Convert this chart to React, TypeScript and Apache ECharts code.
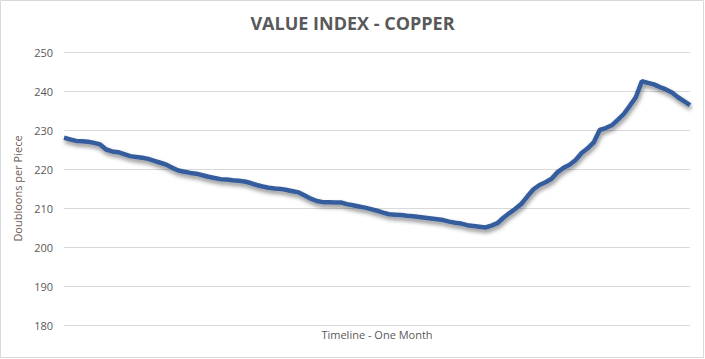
import React, { useEffect, useRef } from "react";
import * as echarts from "echarts";

const titleText = "VALUE INDEX - COPPER";
const yAxisName = "Doubloons per Piece";
const xAxisName = "Timeline - One Month";
const yTicks = { min: 180, max: 250, interval: 10 };

const values: number[] = [
  228.0, 227.6, 227.2, 227.1, 227.0, 226.7, 226.3, 225.0, 224.5, 224.3,
  223.8, 223.3, 223.1, 222.9, 222.6, 222.1, 221.6, 221.1, 220.3, 219.6,
  219.3, 219.0, 218.8, 218.4, 218.0, 217.7, 217.4, 217.3, 217.1, 217.0,
  216.8, 216.4, 215.9, 215.5, 215.2, 215.0, 214.9, 214.6, 214.3, 214.0,
  213.2, 212.4, 211.8, 211.5, 211.5, 211.4, 211.4, 211.0, 210.7, 210.4,
  210.1, 209.7, 209.3, 208.8, 208.4, 208.3, 208.2, 208.0, 207.9, 207.7,
  207.5, 207.3, 207.1, 206.9, 206.5, 206.2, 206.0, 205.6, 205.4, 205.2,
  205.0, 205.5, 206.1, 207.5, 208.7, 209.8, 211.1, 213.0, 214.8, 215.9,
  216.6, 217.5, 219.2, 220.3, 221.1, 222.3, 224.1, 225.3, 226.8, 230.0,
  230.5, 231.2, 232.6, 234.1, 236.2, 238.4, 242.5, 242.1, 241.7, 241.0,
  240.4, 239.6, 238.4, 237.4, 236.4,
];
const categories: string[] = values.map((_, i) => String(i + 1));

export default function App() {
  const ref = useRef<HTMLDivElement>(null);
  useEffect(() => {
    if (!ref.current) return;
    const chart = echarts.init(ref.current, undefined, { renderer: "svg" });
    chart.setOption({
      animation: false,
      backgroundColor: "#ffffff",
      title: {
        text: titleText,
        left: "center",
        top: 9,
        textStyle: {
          fontFamily: "Open Sans",
          fontWeight: "bold",
          fontSize: 18,
          color: "#595959",
        },
      },
      graphic: [
        {
          type: "rect",
          shape: { x: 0.5, y: 0.5, width: 703, height: 357 },
          style: { fill: "none", stroke: "#d9d9d9", lineWidth: 1 },
          silent: true,
        },
      ],
      grid: { left: 64, right: 15, top: 52, bottom: 34 },
      xAxis: {
        type: "category",
        data: categories,
        boundaryGap: false,
        axisLine: { show: false },
        axisTick: { show: false },
        axisLabel: { show: false },
        name: xAxisName,
        nameLocation: "middle",
        nameGap: 4,
        nameTextStyle: { fontFamily: "Open Sans", fontSize: 11, color: "#595959" },
      },
      yAxis: {
        type: "value",
        min: yTicks.min,
        max: yTicks.max,
        interval: yTicks.interval,
        axisLine: { show: false },
        axisTick: { show: false },
        axisLabel: { fontFamily: "Open Sans", fontSize: 11, color: "#595959", margin: 11 },
        splitLine: { lineStyle: { color: "#d9d9d9", width: 1 } },
        name: yAxisName,
        nameLocation: "middle",
        nameGap: 34,
        nameRotate: 90,
        nameTextStyle: { fontFamily: "Open Sans", fontSize: 11, color: "#6a5a50" },
      },
      series: [
        {
          type: "line",
          data: values,
          symbol: "none",
          smooth: false,
          lineStyle: {
            color: "#345d9d",
            width: 4.5,
            shadowColor: "rgba(0,0,0,0.45)",
            shadowBlur: 4,
            shadowOffsetY: 3,
            shadowOffsetX: 1,
          },
        },
      ],
    });
    return () => chart.dispose();
  }, []);
  return (
    <div
      ref={ref}
      style={{ position: "fixed", left: 0, top: 0, width: 705, height: 359 }}
    />
  );
}
